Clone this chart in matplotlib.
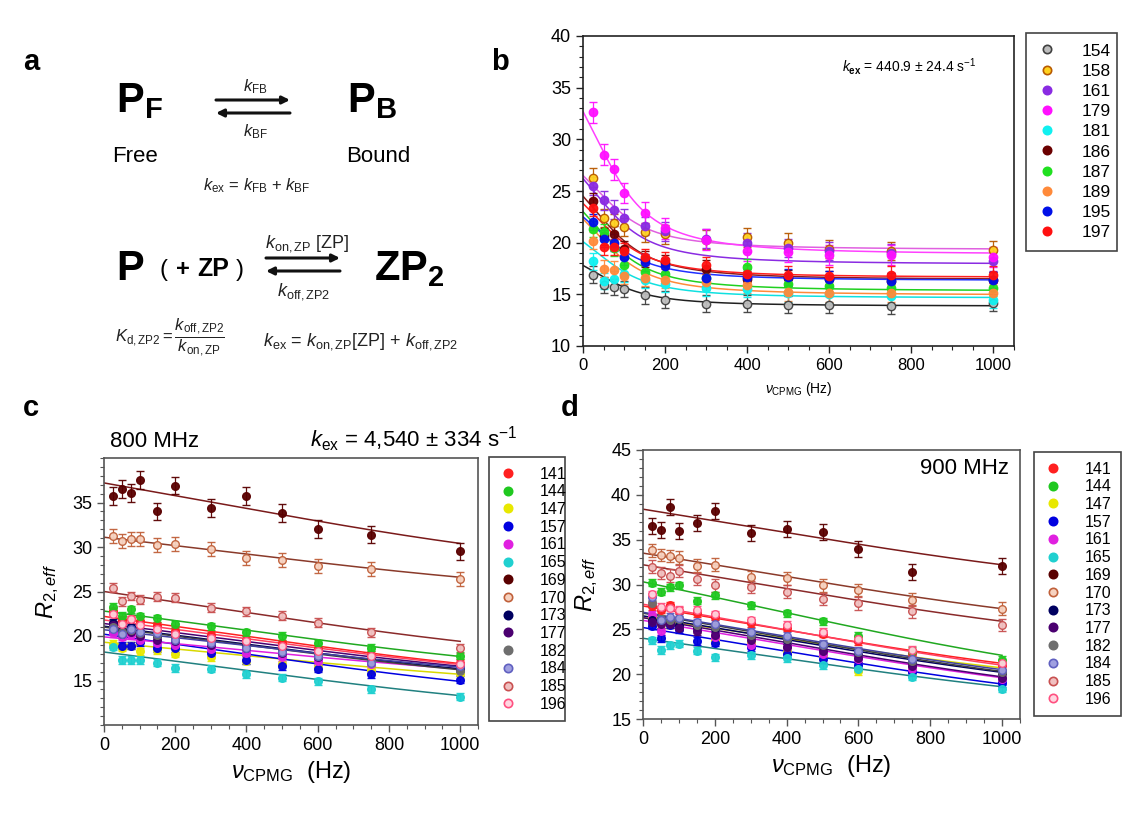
import numpy as np
import matplotlib
matplotlib.use("Agg")
import matplotlib.pyplot as plt
from matplotlib.patches import FancyArrowPatch
from matplotlib.ticker import MultipleLocator
from matplotlib.lines import Line2D

plt.rcParams['font.family'] = ['Liberation Sans', 'DejaVu Sans']
plt.rcParams['mathtext.fontset'] = 'custom'
plt.rcParams['mathtext.rm'] = 'Liberation Sans'
plt.rcParams['mathtext.it'] = 'Liberation Sans:italic'
plt.rcParams['mathtext.bf'] = 'Liberation Sans:bold'

# ---------------- data ----------------
nu_cpmg = [25, 50, 75, 100, 150, 200, 300, 400, 500, 600, 750, 1000]

# panel b (k_ex = 440.9 s^-1)
b_kex = 440.9
b_labels = ['154', '158', '161', '179', '181', '186', '187', '189', '195', '197']
b_face = ['#bdbdbd', '#ffd21e', '#8a2be2', '#ff10ff', '#10f0f0', '#6b0000', '#20e020', '#ff8a3a', '#0010e8', '#ff1010']
b_edge = ['#404040', '#b85a00', '#8a2be2', '#ff10ff', '#10f0f0', '#6b0000', '#20e020', '#ff8a3a', '#0010e8', '#ff1010']
b_line = ['#202020', '#e060e0', '#8a2be2', '#ff40ff', '#10e0e0', '#8b1a1a', '#20d020', '#ff8a3a', '#2030ff', '#ff2020']
b_r2 = [
    [16.9, 15.9, 15.7, 15.5, 14.9, 14.5, 14.1, 14.1, 14.0, 14.0, 13.9, 14.2],
    [26.3, 22.4, 21.9, 21.5, 21.0, 20.8, 20.3, 20.5, 20.0, 19.4, 19.2, 19.3],
    [25.5, 24.1, 23.2, 22.4, 21.6, 21.1, 20.4, 20.0, 19.5, 19.2, 19.0, 18.2],
    [32.6, 28.5, 27.1, 24.8, 22.9, 21.4, 20.3, 19.2, 19.1, 18.8, 18.8, 18.6],
    [18.2, 16.3, 16.5, 17.0, 16.4, 16.0, 15.6, 15.5, 15.1, 15.0, 14.8, 14.5],
    [24.0, 20.6, 20.8, 19.4, 18.4, 18.0, 17.5, 16.5, 16.6, 16.5, 16.3, 16.4],
    [21.3, 21.0, 19.5, 17.8, 17.2, 17.0, 16.6, 17.6, 16.0, 15.8, 15.6, 15.6],
    [20.2, 17.5, 17.4, 16.8, 16.6, 16.4, 16.2, 15.9, 15.2, 15.1, 15.1, 15.1],
    [22.0, 20.4, 20.0, 18.6, 18.1, 17.7, 16.6, 16.7, 16.7, 16.5, 16.3, 16.4],
    [23.4, 19.6, 19.6, 19.2, 18.6, 18.3, 17.8, 17.0, 16.9, 16.8, 16.9, 16.9],
]
b_err = [0.8, 0.9, 0.9, 1.0, 0.8, 0.8, 0.8, 0.8, 0.8, 0.8]
b_fit_start = [17.8, 26.5, 26.2, 32.7, 20.1, 24.5, 23.0, 22.3, 22.5, 23.8]
b_fit_end = [13.9, 19.4, 18.0, 19.0, 14.7, 16.5, 15.4, 15.0, 16.4, 16.7]

# panels c / d (k_ex = 4,540 s^-1)
cd_kex = 4540.0
cd_labels = ['141', '144', '147', '157', '161', '165', '169', '170', '173', '177', '182', '184', '185', '196']
cd_face = ['#ff2020', '#20c820', '#e8e800', '#0000e0', '#e020e0', '#20d0d0', '#5a0000', '#f6d2c0',
           '#000060', '#4b0070', '#6e6e6e', '#a0a0e0', '#f0c0c0', '#ffd6e0']
cd_edge = ['#ff2020', '#20c820', '#e8e800', '#0000e0', '#e020e0', '#20d0d0', '#5a0000', '#c0603a',
           '#000060', '#4b0070', '#6e6e6e', '#6060c0', '#c85050', '#ff5080']
cd_line = ['#ff2020', '#20a820', '#d8d800', '#0000e0', '#e020e0', '#208080', '#7a1a1a', '#8a3a2a',
           '#000060', '#4b0070', '#404040', '#4040a0', '#8a2a2a', '#ff4060']

c_r2 = [
    [22.8, 21.8, 21.9, 21.7, 21.2, 20.6, 20.1, 19.6, 19.2, 18.5, 17.9, 17.0],
    [23.3, 22.3, 23.0, 22.2, 22.0, 21.3, 21.1, 20.4, 20.0, 19.2, 18.7, 17.8],
    [19.1, 18.7, 18.9, 18.3, 18.4, 18.0, 17.6, 17.2, 16.8, 16.5, 16.2, 15.7],
    [20.6, 18.9, 18.9, 19.3, 18.6, 18.6, 18.1, 17.3, 16.6, 16.3, 15.7, 15.1],
    [20.3, 19.9, 20.1, 19.6, 19.2, 19.0, 18.5, 18.1, 17.6, 17.2, 16.8, 16.4],
    [18.8, 17.3, 17.3, 17.3, 17.0, 16.4, 16.3, 15.7, 15.3, 14.9, 14.0, 13.2],
    [35.7, 36.5, 36.1, 37.5, 34.0, 36.9, 34.4, 35.7, 33.8, 32.0, 31.4, 29.5],
    [31.2, 30.7, 30.9, 30.9, 30.2, 30.3, 29.8, 28.8, 28.5, 27.9, 27.5, 26.4],
    [21.5, 20.6, 21.0, 20.5, 20.0, 19.9, 19.3, 18.9, 18.4, 17.8, 17.3, 16.3],
    [21.2, 20.2, 20.4, 20.0, 19.6, 19.4, 19.0, 18.6, 18.1, 17.6, 17.1, 16.5],
    [21.0, 20.5, 20.7, 20.3, 20.1, 19.8, 19.5, 18.8, 18.3, 17.7, 17.2, 16.1],
    [20.8, 20.2, 20.8, 20.4, 20.3, 19.6, 19.2, 18.7, 18.2, 17.7, 17.0, 16.6],
    [25.4, 23.9, 24.5, 24.1, 24.4, 24.3, 23.2, 22.8, 22.3, 21.5, 20.4, 18.6],
    [22.5, 21.4, 21.9, 21.2, 20.8, 20.2, 19.8, 19.4, 18.9, 18.3, 17.7, 16.9],
]
c_err = [0.4, 0.4, 0.4, 0.4, 0.4, 0.4, 1.0, 0.8, 0.4, 0.4, 0.4, 0.4, 0.5, 0.4]
c_fit_start = [22.2, 22.8, 19.3, 20.2, 19.9, 18.2, 37.2, 31.1, 21.1, 21.4, 21.0, 20.7, 25.0, 21.8]
c_fit_end = [16.9, 17.7, 15.7, 14.9, 16.3, 13.3, 30.4, 26.6, 16.3, 16.6, 16.2, 16.5, 19.4, 16.8]

d_r2 = [
    [27.6, 27.2, 27.7, 27.1, 26.8, 26.4, 25.7, 25.2, 24.5, 23.7, 22.4, 21.0],
    [30.2, 29.2, 29.7, 29.9, 28.2, 28.8, 27.7, 26.8, 25.9, 24.3, 22.6, 21.6],
    [26.3, 25.6, 25.6, 25.5, 25.0, 23.8, 23.5, 22.5, 22.0, 20.3, 20.8, 20.2],
    [25.4, 24.0, 25.5, 25.0, 23.7, 23.5, 23.0, 22.3, 21.7, 21.0, 20.2, 19.0],
    [26.6, 24.8, 25.8, 25.3, 25.0, 24.2, 23.2, 23.0, 22.3, 21.7, 20.6, 19.5],
    [23.8, 22.7, 23.2, 23.4, 22.6, 21.9, 22.1, 21.8, 21.0, 20.6, 19.7, 18.4],
    [36.5, 36.1, 38.6, 36.0, 36.9, 38.2, 35.7, 36.2, 35.9, 34.0, 31.4, 32.1],
    [33.8, 33.3, 33.2, 33.0, 32.1, 32.2, 30.8, 30.7, 29.9, 29.4, 28.3, 27.3],
    [26.0, 26.0, 25.8, 25.5, 25.3, 25.1, 24.4, 23.8, 23.2, 22.4, 21.4, 20.1],
    [25.8, 25.6, 25.6, 25.2, 24.8, 24.4, 23.8, 23.0, 22.6, 21.8, 20.9, 19.6],
    [27.9, 26.2, 26.0, 26.1, 25.5, 25.3, 24.4, 23.9, 23.3, 22.5, 21.5, 20.2],
    [28.6, 26.0, 26.4, 26.3, 25.8, 25.6, 24.7, 24.3, 23.4, 22.6, 21.7, 20.5],
    [32.0, 31.3, 31.0, 31.5, 30.6, 29.9, 29.7, 29.2, 28.4, 27.9, 27.0, 25.5],
    [28.9, 27.5, 27.4, 27.2, 27.2, 26.7, 26.0, 25.5, 24.7, 23.9, 22.7, 21.2],
]
d_err = [0.4, 0.4, 0.4, 0.4, 0.4, 0.4, 0.9, 0.7, 0.4, 0.4, 0.4, 0.4, 0.7, 0.4]
d_fit_start = [27.6, 30.3, 26.3, 25.2, 26.0, 24.0, 38.4, 33.5, 26.5, 26.3, 26.8, 26.9, 32.2, 27.8]
d_fit_end = [21.2, 22.1, 20.7, 18.9, 19.6, 18.6, 32.2, 27.3, 20.2, 19.7, 20.3, 20.5, 25.9, 21.0]

# ---------------- helpers ----------------
W, H = 1126, 815
fig = plt.figure(figsize=(W / 100, H / 100), dpi=100)


def P(x, y):
    return (x / W, 1 - y / H)


def box(x0, y0, x1, y1):
    return [x0 / W, 1 - y1 / H, (x1 - x0) / W, (y1 - y0) / H]


def disp(nu, kex):
    nu = np.asarray(nu, dtype=float)
    x = kex / (2.5 * nu)
    return 1 - np.tanh(x) / x


def fit_curve(nu, y0, y1000, kex):
    f1 = disp(1000.0, kex)
    rex = (y0 - y1000) / (1 - f1)
    r20 = y0 - rex
    return r20 + rex * disp(nu, kex)


nu_fine = np.linspace(0.5, 1000, 400)


def draw_panel(ax, r2, errs, face, edge, line, fs, fe, kex, ms, frame_col):
    for i in range(len(r2)):
        ax.plot(nu_fine, fit_curve(nu_fine, fs[i], fe[i], kex), color=line[i], lw=1.1, zorder=2)
        ax.errorbar(nu_cpmg, r2[i], yerr=errs[i], fmt='o', ms=ms, mfc=face[i], mec=edge[i],
                    mew=1.0, ecolor=edge[i], elinewidth=0.9, capsize=3, capthick=0.9,
                    alpha=0.95, zorder=3)
    for s in ax.spines.values():
        s.set_color(frame_col)
        s.set_linewidth(1.2)
    ax.xaxis.set_major_locator(MultipleLocator(200))
    ax.xaxis.set_minor_locator(MultipleLocator(50))
    ax.yaxis.set_minor_locator(MultipleLocator(1))
    ax.tick_params(which='major', direction='out', length=5, width=1, color=frame_col)
    ax.tick_params(which='minor', direction='out', length=3, width=0.8, color=frame_col)


def make_legend(labels, face, edge, x0, y0, x1, y1, fs, spacing):
    handles = [Line2D([], [], marker='o', ls='none', ms=6, mfc=face[i], mec=edge[i], mew=1.2)
               for i in range(len(labels))]
    bb = (x0 / W, 1 - y1 / H, (x1 - x0) / W, (y1 - y0) / H)
    leg = fig.legend(handles, labels, loc='upper left', bbox_to_anchor=bb,
                     bbox_transform=fig.transFigure, mode='expand', fontsize=fs,
                     labelspacing=spacing, handlelength=1.2, handletextpad=1.4,
                     borderpad=0.6, borderaxespad=0, fancybox=False, framealpha=1,
                     edgecolor='#444444')
    leg.get_frame().set_linewidth(1.2)
    return leg


# ---------------- panel b ----------------
axb = fig.add_axes(box(583, 36, 1014, 346))
draw_panel(axb, b_r2, b_err, b_face, b_edge, b_line, b_fit_start, b_fit_end, b_kex, 6, '#222222')
axb.set_xlim(0, 1050)
axb.set_ylim(10, 40)
axb.set_yticks([10, 15, 20, 25, 30, 35, 40])
axb.set_xticks([0, 200, 400, 600, 800, 1000])
axb.tick_params(labelsize=13)
axb.tick_params(axis='x', labelsize=12)
axb.set_xlabel(r'$\nu_{\mathrm{CPMG}}$ (Hz)', fontsize=10, labelpad=5)
axb.text(0.6, 0.885, r'$k_{\mathbf{ex}}$ = 440.9 $\pm$ 24.4 s$^{-1}$', transform=axb.transAxes, fontsize=10)
make_legend(b_labels, b_face, b_edge, 1026, 33, 1117, 247, 12.5, 0.29)

# ---------------- panel c ----------------
axc = fig.add_axes(box(104, 458, 478, 725))
draw_panel(axc, c_r2, c_err, cd_face, cd_edge, cd_line, c_fit_start, c_fit_end, cd_kex, 5.5, '#555555')
axc.set_xlim(0, 1050)
axc.set_ylim(10, 40)
axc.set_yticks([15, 20, 25, 30, 35])
axc.set_xticks([0, 200, 400, 600, 800, 1000])
axc.tick_params(labelsize=13)
axc.set_xlabel(r'$\nu_{\mathrm{CPMG}}$  (Hz)', fontsize=17, labelpad=4)
axc.set_ylabel(r'$R_{2,eff}$', fontsize=17, labelpad=8)
make_legend(cd_labels, cd_face, cd_edge, 489, 457, 565, 722, 11.5, 0.17)

# ---------------- panel d ----------------
axd = fig.add_axes(box(643, 450, 1020, 719))
draw_panel(axd, d_r2, d_err, cd_face, cd_edge, cd_line, d_fit_start, d_fit_end, cd_kex, 5.5, '#555555')
axd.set_xlim(0, 1050)
axd.set_ylim(15, 45)
axd.set_yticks([15, 20, 25, 30, 35, 40, 45])
axd.set_xticks([0, 200, 400, 600, 800, 1000])
axd.tick_params(labelsize=13)
axd.set_xlabel(r'$\nu_{\mathrm{CPMG}}$  (Hz)', fontsize=17, labelpad=4)
axd.set_ylabel(r'$R_{2,eff}$', fontsize=17, labelpad=8)
axd.text(0.97, 0.93, '900 MHz', transform=axd.transAxes, fontsize=16, ha='right', va='center')
make_legend(cd_labels, cd_face, cd_edge, 1034, 452, 1121, 717, 11.5, 0.17)

# ---------------- panel labels / headers ----------------
for lab, (x, y) in zip(['a', 'b', 'c', 'd'], [(31, 70), (500, 70), (31, 416), (570, 416)]):
    fig.text(*P(x, y), lab, fontsize=21, fontweight='bold', ha='center', va='baseline')
fig.text(*P(110, 447), '800 MHz', fontsize=16, ha='left', va='baseline')
fig.text(*P(310, 447), r'$k_{\mathrm{ex}}$ = 4,540 $\pm$ 334 s$^{-1}$', fontsize=16, ha='left', va='baseline')

# ---------------- panel a (scheme) ----------------
fig.text(*P(116, 112), r'$\mathbf{P_{F}}$', fontsize=30, va='baseline')
fig.text(*P(347, 112), r'$\mathbf{P_{B}}$', fontsize=30, va='baseline')
fig.text(*P(135, 162), 'Free', fontsize=16, ha='center', va='baseline')
fig.text(*P(378, 162), 'Bound', fontsize=16, ha='center', va='baseline')
fig.text(*P(255, 91), r'$k_{\mathrm{FB}}$', fontsize=12, ha='center', va='baseline', color='#222222')
fig.text(*P(255, 136), r'$k_{\mathrm{BF}}$', fontsize=12, ha='center', va='baseline', color='#222222')
fig.text(*P(257, 190), r'$k_{\mathrm{ex}}$ = $k_{\mathrm{FB}}$ + $k_{\mathrm{BF}}$', fontsize=12, ha='center',
         va='baseline', color='#222222')


def arrow(x0, y0, x1, y1):
    fig.add_artist(FancyArrowPatch(P(x0, y0), P(x1, y1), transform=fig.transFigure,
                                   arrowstyle='-|>', mutation_scale=11, lw=2.2, color='#111111',
                                   shrinkA=0, shrinkB=0))


arrow(216, 100, 290, 100)
arrow(290, 113, 216, 113)
arrow(266, 258, 340, 258)
arrow(340, 271, 266, 271)

fig.text(*P(116, 280), 'P', fontsize=30, fontweight='bold', va='baseline')
fig.text(*P(160, 276), '( ', fontsize=17, va='baseline')
fig.text(*P(176, 276), '+', fontsize=17, fontweight='bold', va='baseline')
fig.text(*P(197, 276), 'ZP', fontsize=18, fontweight='bold', va='baseline')
fig.text(*P(236, 276), ')', fontsize=17, va='baseline')
fig.text(*P(374, 280), r'$\mathbf{ZP_{2}}$', fontsize=30, va='baseline')
fig.text(*P(307, 247), r'$k_{\mathrm{on,ZP}}$ [ZP]', fontsize=13, ha='center', va='baseline', color='#222222')
fig.text(*P(304, 295), r'$k_{\mathrm{off,ZP2}}$', fontsize=13, ha='center', va='baseline', color='#222222')
fig.text(*P(115, 337), r'$K_{\mathrm{d,ZP2}} = \dfrac{k_{\mathrm{off,ZP2}}}{k_{\mathrm{on,ZP}}}$', fontsize=12,
         ha='left', va='center', color='#222222')
fig.text(*P(263, 345), r'$k_{\mathrm{ex}}$ = $k_{\mathrm{on,ZP}}$[ZP] + $k_{\mathrm{off,ZP2}}$', fontsize=13,
         ha='left', va='baseline', color='#222222')

fig.savefig('out.png', dpi=100)
